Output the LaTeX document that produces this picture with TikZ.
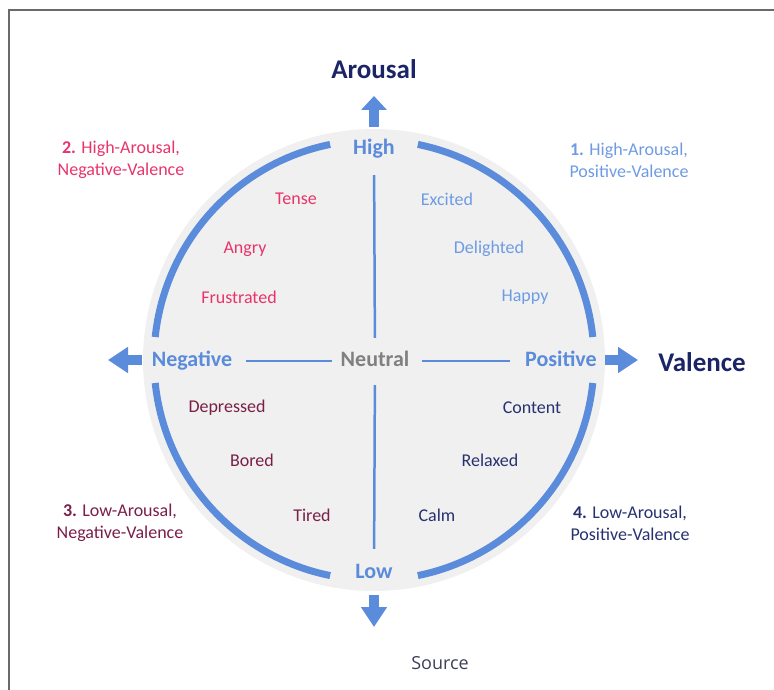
\documentclass[tikz,border=0pt]{standalone}
\usepackage{fontspec}
\setmainfont{Carlito}
\newfontfamily\srcfont{Open Sans}
\usetikzlibrary{arrows.meta,calc,positioning}

\definecolor{ringblue}{HTML}{5B8BDB}
\definecolor{diskgray}{HTML}{F0F0F0}
\definecolor{framegray}{HTML}{6A6A6A}
\definecolor{axisnavy}{HTML}{1A2466}
\definecolor{hapink}{HTML}{E8346C}
\definecolor{hpblue}{HTML}{6E9BE3}
\definecolor{lnmaroon}{HTML}{7A1F48}
\definecolor{lpnavy}{HTML}{28316F}
\definecolor{neutralgray}{HTML}{808080}
\definecolor{srcgray}{HTML}{3C4058}

\begin{document}
\begin{tikzpicture}[x=1pt,y=-1pt,
    lbl/.style={font=\fontsize{18}{22}\selectfont, inner sep=0pt},
    quad/.style={lbl, align=center},
    pole/.style={font=\fontsize{22}{26}\selectfont\bfseries, text=ringblue,
                 inner sep=0pt, text height=14pt, text depth=4pt},
    axisname/.style={font=\fontsize{27}{32}\selectfont\bfseries, text=axisnavy},
    axisline/.style={ringblue, line width=2.5pt},
    ring/.style={ringblue, line width=7pt},
    bigarrow/.style={ringblue, line width=10pt, -{Triangle[width=25pt,length=20pt]}}]

    \useasboundingbox (0,0) rectangle (774,690);
    \draw[framegray, line width=1.3pt] (9,690) -- (9,10) -- (774,10);

    % disk and ring
    \fill[diskgray] (374,360) circle[radius=231];
    \begin{scope}[shift={(374,360)}]
        \draw[ring] (6:220) arc[start angle=6, end angle=78.5, radius=220];
        \draw[ring] (101.5:220) arc[start angle=101.5, end angle=174, radius=220];
        \draw[ring] (186:220) arc[start angle=186, end angle=258.5, radius=220];
        \draw[ring] (281.5:220) arc[start angle=281.5, end angle=354, radius=220];
    \end{scope}

    % poles
    \node[pole] (high) at (374,150) {High};
    \node[pole] (low)  at (374,573) {Low};
    \node[pole] (neg)  at (192,361) {Negative};
    \node[pole] (pos)  at (561,361) {Positive};
    \node[pole, text=neutralgray] (neutral) at (375,361) {Neutral};

    \node[axisname] (arousal) at (374,69) {Arousal};
    \node[axisname] (valence) at (702,362) {Valence};

    \path[axisline] (high) edge[shorten <=16pt, shorten >=14pt] (neutral);
    \path[axisline] (neutral) edge[shorten <=15pt, shorten >=15pt] (low);
    \path[axisline] (neg) edge[shorten <=14pt, shorten >=9pt] (neutral);
    \path[axisline] (neutral) edge[shorten <=12pt, shorten >=15pt] (pos);

    % block arrows
    \coordinate (up-s) at (374,127);   \coordinate (up-e) at (374,96);
    \coordinate (dn-s) at (374,595);   \coordinate (dn-e) at (374,627);
    \coordinate (lt-s) at (142,360);   \coordinate (lt-e) at (108,360);
    \coordinate (rt-s) at (605,360);   \coordinate (rt-e) at (638,360);
    \draw[bigarrow, -{Triangle[width=25pt,length=14pt]}] (up-s) -- (up-e);
    \draw[bigarrow] (dn-s) -- (dn-e);
    \draw[bigarrow] (lt-s) -- (lt-e);
    \draw[bigarrow] (rt-s) -- (rt-e);

    % quadrant 1
    \node[lbl, text=hpblue] (excited)   at (447,199) {Excited};
    \node[lbl, text=hpblue] (delighted) at (489,249) {Delighted};
    \node[lbl, text=hpblue] (happy)     at (525,297) {Happy};
    % quadrant 2
    \node[lbl, text=hapink] (tense)      at (296,199) {Tense};
    \node[lbl, text=hapink] (angry)      at (245,249) {Angry};
    \node[lbl, text=hapink] (frustrated) at (239,297) {Frustrated};
    % quadrant 3
    \node[lbl, text=lnmaroon] (depressed) at (227,408) {Depressed};
    \node[lbl, text=lnmaroon] (bored)     at (252,460) {Bored};
    \node[lbl, text=lnmaroon] (tired)     at (312,515) {Tired};
    % quadrant 4
    \node[lbl, text=lpnavy] (content) at (532,408) {Content};
    \node[lbl, text=lpnavy] (relaxed) at (490,460) {Relaxed};
    \node[lbl, text=lpnavy] (calm)    at (437,515) {Calm};

    \node[quad, text=hpblue]   (q1) at (629,160) {\textbf{1.} High-Arousal,\\Positive-Valence};
    \node[quad, text=hapink]   (q2) at (121,160) {\textbf{2.} High-Arousal,\\Negative-Valence};
    \node[quad, text=lnmaroon] (q3) at (120,523) {\textbf{3.} Low-Arousal,\\Negative-Valence};
    \node[quad, text=lpnavy]   (q4) at (630,523) {\textbf{4.} Low-Arousal,\\Positive-Valence};

    \node[text=srcgray, inner sep=0pt, font=\srcfont\fontsize{18}{22}\selectfont] (source) at (440,663) {Source};

\end{tikzpicture}
\end{document}
